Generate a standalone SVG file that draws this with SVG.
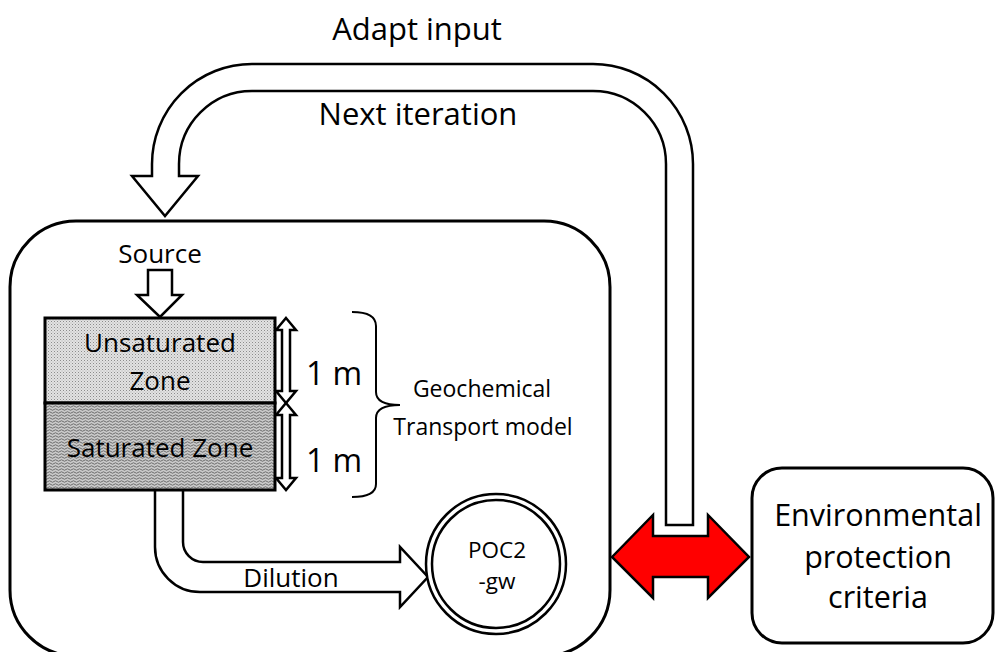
<svg xmlns="http://www.w3.org/2000/svg" width="995" height="652" viewBox="0 0 995 652">
<style>
  text { font-family: "Open Sans", "Liberation Sans", sans-serif; fill: #000; text-anchor: middle; }
  .ln { fill: #fff; stroke: #000; stroke-width: 2.5; stroke-linejoin: miter; }
  .box { fill: #fff; stroke: #000; stroke-width: 3; }
</style>
<defs>
  <pattern id="dots" width="3" height="3" patternUnits="userSpaceOnUse">
    <rect width="3" height="3" fill="#e2e2e2"/>
    <rect width="1" height="1" fill="#8c8c8c"/>
    <rect x="1.5" y="1.5" width="1" height="1" fill="#b0b0b0"/>
  </pattern>
  <pattern id="waves" width="6" height="3" patternUnits="userSpaceOnUse">
    <rect width="6" height="3" fill="#cacaca"/>
    <path d="M0,1.5 Q1.5,0 3,1.5 T6,1.5" fill="none" stroke="#555" stroke-width="0.8"/>
  </pattern>
</defs>

<g id="main-box">
  <rect class="box" x="10" y="221" width="600" height="435" rx="66" ry="66"/>
</g>

<g id="connectors">
  <path id="loop-arrow" class="ln" d="M693,525 L693,164 A100,100 0 0 0 593,64 L252,64 A100,100 0 0 0 152,164 L152,176 L132,176 L165,216 L198,176 L179,176 L179,164 A73,73 0 0 1 252,91 L593,91 A73,73 0 0 1 666,164 L666,525 Z"/>
  <path id="source-arrow" class="ln" d="M148,270 L172,270 L172,295 L182,295 L160,317 L137,295 L148,295 Z"/>
  <path id="dilution-arrow" class="ln" d="M155,490 L155,547 A45,45 0 0 0 200,592 L400,592 L400,607 L428,577 L400,547 L400,562 L203,562 A20,20 0 0 1 183,542 L183,490"/>
  <path id="dim-upper" class="ln" stroke-width="2" d="M286,318 L296,330 L290,330 L290,391 L296,391 L286,403 L276,391 L282,391 L282,330 L276,330 Z"/>
  <path id="dim-lower" class="ln" stroke-width="2" d="M286,403 L296,415 L290,415 L290,478 L296,478 L286,490 L276,478 L282,478 L282,415 L276,415 Z"/>
  <path id="brace" fill="none" stroke="#000" stroke-width="2" d="M352,312 Q376,312 376,326 L376,392 Q376,405 400,405 Q376,405 376,418 L376,484 Q376,497 352,497"/>
  <path id="red-arrow" fill="#ff0000" stroke="#000" stroke-width="2.5" d="M612,557 L653,515 L653,536 L708,536 L708,515 L749,557 L708,598 L708,577 L653,577 L653,598 Z"/>
</g>

<g id="soil-column">
  <rect x="45" y="318" width="230" height="85" fill="url(#dots)" stroke="#000" stroke-width="3"/>
  <rect x="45" y="403" width="230" height="87" fill="url(#waves)" stroke="#000" stroke-width="3"/>
  <text x="160" y="352" font-size="26">Unsaturated</text>
  <text x="160" y="390" font-size="26">Zone</text>
  <text x="160" y="457" font-size="26">Saturated Zone</text>
</g>

<g id="poc2">
  <circle cx="496" cy="564" r="70" fill="#fff" stroke="#000" stroke-width="2.5"/>
  <circle cx="496" cy="564" r="64" fill="none" stroke="#000" stroke-width="2.5"/>
  <text x="497" y="558" font-size="22.5">POC2</text>
  <text x="497" y="589" font-size="22.5">-gw</text>
</g>

<g id="env-criteria">
  <rect class="box" x="752" y="468" width="241" height="175" rx="30" ry="30"/>
  <text x="878" y="526" font-size="30.5">Environmental</text>
  <text x="878" y="568" font-size="30.5">protection</text>
  <text x="878" y="608" font-size="30.5">criteria</text>
</g>

<g id="labels">
  <text x="417" y="40" font-size="31">Adapt input</text>
  <text x="418" y="125" font-size="31">Next iteration</text>
  <text x="160" y="263" font-size="26">Source</text>
  <text x="334" y="385" font-size="32">1 m</text>
  <text x="334" y="472" font-size="32">1 m</text>
  <text x="482" y="397" font-size="23">Geochemical</text>
  <text x="483" y="435" font-size="23">Transport model</text>
  <text x="291" y="587" font-size="26">Dilution</text>
</g>
</svg>
